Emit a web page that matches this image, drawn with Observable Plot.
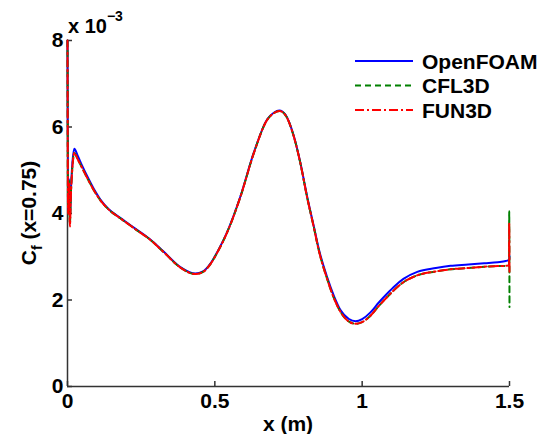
<!DOCTYPE html>
<html>
<head>
<meta charset="utf-8">
<script src="https://cdn.jsdelivr.net/npm/d3@7"></script>
<script src="https://cdn.jsdelivr.net/npm/@observablehq/plot@0.6"></script>
<style>
  html, body { margin: 0; padding: 0; background: #fff; }
  svg { display: block; }
</style>
</head>
<body>
<div id="chart"></div>
<script>
// x positions (m)
const xBody = [0, 0.002, 0.005, 0.008, 0.012, 0.017, 0.023, 0.035, 0.05, 0.07, 0.09, 0.111, 0.14, 0.179, 0.23, 0.281, 0.326, 0.383, 0.434, 0.46, 0.485, 0.51, 0.541, 0.587, 0.632, 0.678, 0.70, 0.719, 0.74, 0.768, 0.791, 0.813, 0.836, 0.852, 0.881, 0.905, 0.927, 0.955, 0.978, 1.0, 1.029, 1.055, 1.085, 1.11, 1.14, 1.187, 1.25, 1.30, 1.36, 1.414, 1.46, 1.487];
// trailing-edge x positions (m)
const xEndOF = [1.499, 1.5];
const xEndCFL = [1.4985, 1.499, 1.5];
const xEndFUN = [1.4985, 1.499, 1.5];
// Cf x 1e3
const cfOpenFOAM = [8.0, 4.1, 4.8, 3.85, 4.6, 5.2, 5.5, 5.33, 5.1, 4.82, 4.56, 4.33, 4.1, 3.9, 3.65, 3.4, 3.12, 2.76, 2.61, 2.66, 2.84, 3.13, 3.56, 4.4, 5.4, 6.18, 6.33, 6.38, 6.28, 5.79, 5.15, 4.4, 3.7, 3.2, 2.53, 2.08, 1.76, 1.56, 1.51, 1.56, 1.72, 1.93, 2.15, 2.32, 2.49, 2.65, 2.74, 2.79, 2.82, 2.85, 2.875, 2.9, 2.93, 3.02];
const cfCFL3D = [8.0, 4.0, 4.75, 3.75, 4.55, 5.1, 5.4, 5.25, 5.05, 4.78, 4.53, 4.31, 4.09, 3.89, 3.64, 3.39, 3.11, 2.75, 2.6, 2.65, 2.83, 3.12, 3.55, 4.39, 5.39, 6.17, 6.32, 6.37, 6.27, 5.78, 5.14, 4.38, 3.68, 3.17, 2.49, 2.03, 1.72, 1.5, 1.45, 1.49, 1.64, 1.85, 2.07, 2.24, 2.41, 2.57, 2.66, 2.71, 2.74, 2.77, 2.785, 2.79, 2.8, 4.05, 1.84];
const cfFUN3D = [8.0, 4.0, 4.7, 3.7, 4.5, 5.1, 5.4, 5.25, 5.05, 4.78, 4.53, 4.31, 4.09, 3.89, 3.64, 3.39, 3.11, 2.75, 2.6, 2.65, 2.83, 3.12, 3.55, 4.39, 5.39, 6.17, 6.32, 6.37, 6.27, 5.78, 5.14, 4.38, 3.68, 3.17, 2.49, 2.03, 1.72, 1.5, 1.45, 1.49, 1.64, 1.85, 2.07, 2.24, 2.41, 2.57, 2.66, 2.71, 2.74, 2.77, 2.785, 2.79, 2.8, 3.78, 2.6];

const xTicks = [0, 0.5, 1, 1.5];
const yTicks = [0, 2, 4, 6, 8];
const seriesNames = ["OpenFOAM", "CFL3D", "FUN3D"];
const seriesColors = ["#0000ff", "#008000", "#ff0000"];
const seriesDash = [null, "6,4", "9,3,2,3"];

function build(xs, ys) { return ys.map((y, i) => ({x: xs[i], y})); }
const dOF = build(xBody.concat(xEndOF), cfOpenFOAM);
const dCFL = build(xBody.concat(xEndCFL), cfCFL3D);
const dFUN = build(xBody.concat(xEndFUN), cfFUN3D);

const W = 551, H = 434, mL = 67, mR = 42, mT = 40, mB = 48;
const fw = W - mL - mR, fh = H - mT - mB;
const font = "Liberation Sans, Arial, Helvetica, sans-serif";

const chart = Plot.plot({
  width: W, height: H,
  marginLeft: mL, marginRight: mR, marginTop: mT, marginBottom: mB,
  x: {domain: [0, 1.5]},
  y: {domain: [0, 8]},
  style: {fontFamily: font, background: "white", color: "black"},
  marks: [
    Plot.axisX({ticks: xTicks, tickSize: 0, tickPadding: 7, tickFormat: d => String(d), label: null, fontSize: 21, fontWeight: "bold"}),
    Plot.axisY({ticks: yTicks, tickSize: 0, tickPadding: 4, tickFormat: d => String(d), label: null, fontSize: 21, fontWeight: "bold"}),
    Plot.tickX(xTicks, {x: d => d, insetTop: fh - 5, stroke: "#333", strokeWidth: 1.5}),
    Plot.tickY(yTicks, {y: d => d, insetRight: fw - 5, stroke: "#333", strokeWidth: 1.5}),
    Plot.ruleX([0], {stroke: "#333", strokeWidth: 1.5}),
    Plot.ruleY([0], {stroke: "#333", strokeWidth: 1.5}),
    Plot.line(dOF, {x: "x", y: "y", stroke: seriesColors[0], strokeWidth: 2, curve: "monotone-x"}),
    Plot.line(dCFL, {x: "x", y: "y", stroke: seriesColors[1], strokeWidth: 2, strokeDasharray: seriesDash[1], curve: "monotone-x"}),
    Plot.line(dFUN, {x: "x", y: "y", stroke: seriesColors[2], strokeWidth: 2, strokeDasharray: seriesDash[2], curve: "monotone-x"})
  ]
});
document.getElementById("chart").appendChild(chart);

const svg = d3.select(chart);
// x label
svg.append("text").attr("x", mL + fw / 2).attr("y", H - 3).attr("text-anchor", "middle")
  .attr("font-family", font).attr("font-weight", "bold").attr("font-size", 21).text("x (m)");
// y label with subscript
const yl = svg.append("text").attr("transform", `translate(36,${mT + fh / 2}) rotate(-90)`)
  .attr("text-anchor", "middle").attr("font-family", font).attr("font-weight", "bold").attr("font-size", 21);
yl.append("tspan").text("C");
yl.append("tspan").attr("dy", 6).attr("font-size", 14).text("f");
yl.append("tspan").attr("dy", -6).text(" (x=0.75)");
// exponent
const ex = svg.append("text").attr("x", 68).attr("y", 33).attr("text-anchor", "start")
  .attr("font-family", font).attr("font-weight", "bold").attr("font-size", 20);
ex.append("tspan").text("x 10");
ex.append("tspan").attr("dy", -12).attr("font-size", 14).text("\u22123");
// legend
const lg = svg.append("g");
seriesNames.forEach((name, i) => {
  const cy = 61 + i * 24.5;
  lg.append("line").attr("x1", 355).attr("x2", 413).attr("y1", cy).attr("y2", cy)
    .attr("stroke", seriesColors[i]).attr("stroke-width", 2)
    .attr("stroke-dasharray", seriesDash[i]);
  lg.append("text").attr("x", 422).attr("y", cy).attr("dy", "0.36em").attr("text-anchor", "start")
    .attr("font-family", font).attr("font-weight", "bold").attr("font-size", 21).text(name);
});
</script>
</body>
</html>
